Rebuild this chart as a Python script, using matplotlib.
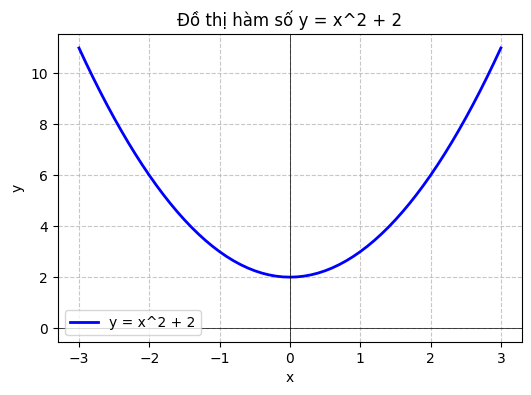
import matplotlib
matplotlib.use("Agg")
import matplotlib.pyplot as plt

# values
x_vals = [-3.0, -2.9, -2.8, -2.7, -2.6, -2.5, -2.4, -2.3, -2.2, -2.1, -2.0,
          -1.9, -1.8, -1.7, -1.6, -1.5, -1.4, -1.3, -1.2, -1.1, -1.0,
          -0.9, -0.8, -0.7, -0.6, -0.5, -0.4, -0.3, -0.2, -0.1, 0.0,
          0.1, 0.2, 0.3, 0.4, 0.5, 0.6, 0.7, 0.8, 0.9, 1.0,
          1.1, 1.2, 1.3, 1.4, 1.5, 1.6, 1.7, 1.8, 1.9, 2.0,
          2.1, 2.2, 2.3, 2.4, 2.5, 2.6, 2.7, 2.8, 2.9, 3.0]
y_vals = [11.0, 10.41, 9.84, 9.29, 8.76, 8.25, 7.76, 7.29, 6.84, 6.41, 6.0,
          5.61, 5.24, 4.89, 4.56, 4.25, 3.96, 3.69, 3.44, 3.21, 3.0,
          2.81, 2.64, 2.49, 2.36, 2.25, 2.16, 2.09, 2.04, 2.01, 2.0,
          2.01, 2.04, 2.09, 2.16, 2.25, 2.36, 2.49, 2.64, 2.81, 3.0,
          3.21, 3.44, 3.69, 3.96, 4.25, 4.56, 4.89, 5.24, 5.61, 6.0,
          6.41, 6.84, 7.29, 7.76, 8.25, 8.76, 9.29, 9.84, 10.41, 11.0]

fig, ax = plt.subplots(figsize=(5.31, 3.95), dpi=100)
fig.subplots_adjust(left=0.109, right=0.983, top=0.914, bottom=0.134)

ax.plot(x_vals, y_vals, color='blue', linewidth=2, label='y = x^2 + 2')
ax.axhline(0, color='black', linewidth=0.5)
ax.axvline(0, color='black', linewidth=0.5)
ax.grid(True, linestyle='--', alpha=0.7)
ax.set_title('Đồ thị hàm số y = x^2 + 2')
ax.set_xlabel('x')
ax.set_ylabel('y')
ax.legend(loc='lower left')

fig.savefig('out.png', dpi=100)
